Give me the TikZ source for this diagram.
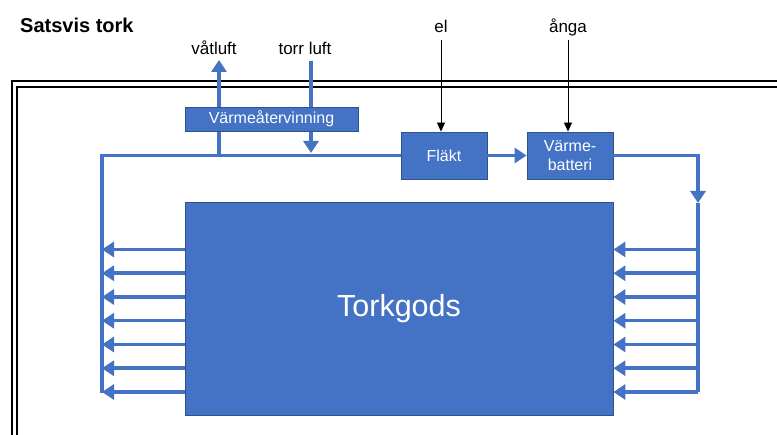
\documentclass[tikz,border=0pt]{standalone}
\usepackage{fontspec}
\setmainfont{Liberation Sans}
\usetikzlibrary{arrows.meta}
\definecolor{accent}{HTML}{4472C4}
\definecolor{accentdark}{HTML}{2F528F}

\begin{document}
\begin{tikzpicture}[x=1pt, y=-1pt,
      box/.style = {shape=rectangle, draw=accentdark, line width=0.8pt,
        fill=accent, text=white, align=center, inner sep=0pt,
        font=\fontsize{16}{18.5}\selectfont},
      pipe/.style = {draw=accent, line width=3.5pt},
      duct/.style = {pipe, -{Triangle[width=15pt,length=12pt]}},
      feed/.style = {draw=black, line width=0.8pt,
        -{Triangle[width=8pt,length=9pt]}},
      lbl/.style = {anchor=base, inner sep=0pt,
        font=\fontsize{17}{20}\selectfont},
      frame/.style = {line width=2pt}]
  \useasboundingbox (0,0) rectangle (777,435);
  % ram
  \draw[frame] (12,435) -- (12,81) -- (777,81);
  \draw[frame] (17,435) -- (17,87) -- (777,87);
  \node[anchor=base west, inner sep=0pt,
    font=\fontsize{20}{23}\selectfont\bfseries] (title) at (20,33) {Satsvis tork};
  \node[lbl] (vat) at (214,54.5) {våtluft};
  \node[lbl] (torr) at (305,54.5) {torr luft};
  \node[lbl] (el) at (441,33) {el};
  \node[lbl] (anga) at (568,33) {ånga};
  \node[box, minimum width=86pt, minimum height=47pt] (flakt) at (444,155.5) {Fläkt};
  \node[box, minimum width=86pt, minimum height=47pt] (batteri) at (570,155.5) {Värme-\\batteri};
  \node[box, minimum width=428pt, minimum height=213pt,
    font=\fontsize{30.5}{35}\selectfont] (gods) at (399,308.5) {Torkgods};
  \coordinate (lt) at (102,155.5);
  \coordinate (lb) at (102,393);
  \coordinate (rtop) at (698,203);
  \coordinate (rbot) at (698,392);
  \coordinate (vin) at (219,155.5);
  \coordinate (vut) at (219,60);
  \coordinate (tut) at (311,61);
  \coordinate (tin) at (311,153);
  % kanaler
  \draw[pipe] (flakt.west) -- (lt) -- (lb);
  \draw[duct] (vin) -- (vut);
  \draw[duct] (tut) -- (tin);
  \node[box, minimum width=173pt, minimum height=24pt] (wat) at (271.5,119) {Värmeåtervinning};
  \draw[duct] (flakt) -- (batteri);
  \draw[duct] (batteri.east) -| (rtop);
  \draw[pipe] (rtop) -- (rbot);
  \foreach \y in {249.5,273.25,297,320.75,344.5,368.25,392} {
    \draw[duct] (gods.west |- 0,\y) -- (lb |- 0,\y);
    \draw[duct] (rbot |- 0,\y) -- (gods.east |- 0,\y);
  }
  \draw[feed] ([yshift=-7pt]el.base) -- (el.base |- flakt.north);
  \draw[feed] ([yshift=-7pt]anga.base) -- (anga.base |- batteri.north);
\end{tikzpicture}
\end{document}
